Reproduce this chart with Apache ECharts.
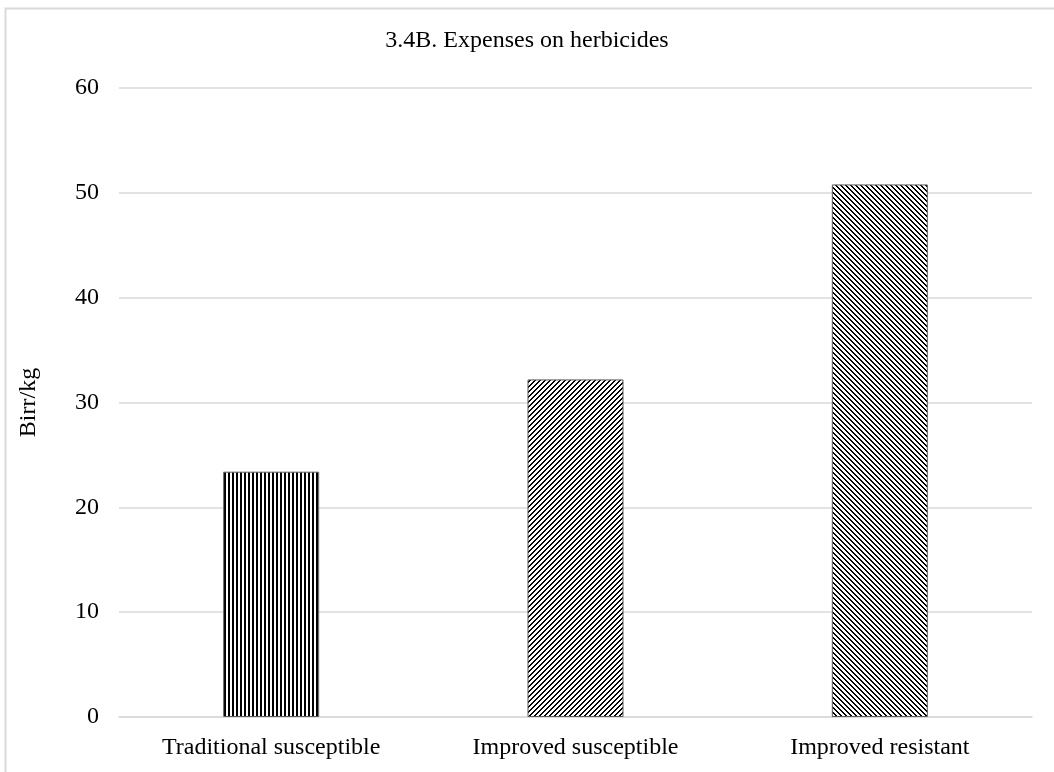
<!DOCTYPE html>
<html>
<head>
<meta charset="utf-8">
<script src="https://cdn.jsdelivr.net/npm/echarts@6/dist/echarts.min.js"></script>
<style>
  html, body { margin: 0; padding: 0; background: #fff; }
  #chart { width: 1054px; height: 772px; }
</style>
</head>
<body>
<div id="chart"></div>
<script>
// Herbicide expenses per kg, by variety group
const categories = ['Traditional susceptible', 'Improved susceptible', 'Improved resistant'];
const values = [23.4, 32.2, 50.8];
const yTicks = [0, 10, 20, 30, 40, 50, 60];

// Hatch fills drawn on small tiling canvases
function stripeVertical() {
  const c = document.createElement('canvas');
  c.width = 4; c.height = 4;
  const g = c.getContext('2d');
  g.fillStyle = '#fff'; g.fillRect(0, 0, 4, 4);
  g.fillStyle = '#000'; g.fillRect(0, 0, 2, 4);
  return c;
}
function stripeDiagonal(forward) {
  const n = 5;
  const c = document.createElement('canvas');
  c.width = n; c.height = n;
  const g = c.getContext('2d');
  g.fillStyle = '#fff'; g.fillRect(0, 0, n, n);
  g.fillStyle = '#000';
  for (let y = 0; y < n; y++) {
    for (let k = 0; k < 2; k++) {
      const x = forward ? (n - 1 - y + k) % n : (y + k) % n;
      g.fillRect(x, y, 1, 1);
    }
  }
  return c;
}
const fills = [
  { image: stripeVertical(), repeat: 'repeat' },
  { image: stripeDiagonal(true), repeat: 'repeat' },
  { image: stripeDiagonal(false), repeat: 'repeat' }
];

const font = 'Liberation Serif, Times New Roman, serif';
const chart = echarts.init(document.getElementById('chart'));
chart.setOption({
  animation: false,
  backgroundColor: '#fff',
  title: {
    text: '3.4B. Expenses on herbicides',
    left: 'center',
    top: 24,
    textStyle: { fontFamily: font, fontSize: 24, fontWeight: 'normal', color: '#000' }
  },
  graphic: [{
    type: 'rect',
    shape: { x: 5.5, y: 8.5, width: 1100, height: 900 },
    style: { fill: 'none', stroke: '#d9d9d9', lineWidth: 2 },
    silent: true
  }],
  grid: { left: 119, right: 22, top: 88, bottom: 55 },
  xAxis: {
    type: 'category',
    data: categories,
    axisTick: { show: false },
    axisLine: { lineStyle: { color: '#d9d9d9', width: 1.5 } },
    axisLabel: { fontFamily: font, fontSize: 24, color: '#000', margin: 19 }
  },
  yAxis: {
    type: 'value',
    min: yTicks[0],
    max: yTicks[yTicks.length - 1],
    interval: 10,
    name: 'Birr/kg',
    nameLocation: 'middle',
    nameGap: 78,
    nameTextStyle: { fontFamily: font, fontSize: 24, color: '#000' },
    axisLine: { show: false },
    axisTick: { show: false },
    axisLabel: { fontFamily: font, fontSize: 24, color: '#000', margin: 20 },
    splitLine: { lineStyle: { color: '#d9d9d9', width: 1.5 } }
  },
  series: [{
    type: 'bar',
    barWidth: 96,
    data: values.map((v, i) => ({
      value: v,
      itemStyle: { color: fills[i], borderColor: '#595959', borderWidth: 1 }
    }))
  }]
});
</script>
</body>
</html>
